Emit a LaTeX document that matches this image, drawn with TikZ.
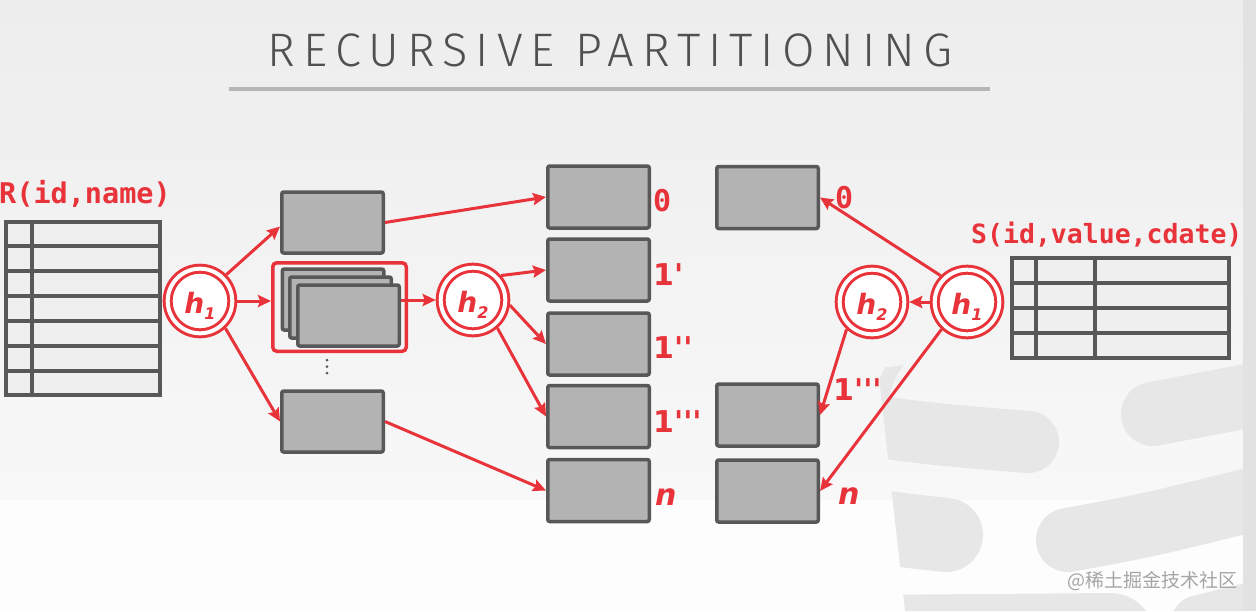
\documentclass[tikz,border=0pt]{standalone}
\usepackage{fontspec}
\usetikzlibrary{arrows.meta,calc}
\newfontfamily\titlefont{Fira Sans}[UprightFont={* Light},LetterSpace=17]
\newfontfamily\monofam{DejaVu Sans Mono}
\newfontfamily\dvsans{DejaVu Sans}
\newfontfamily\cjk{Noto Sans CJK SC}
\definecolor{hred}{RGB}{231,51,57}
\definecolor{boxfill}{RGB}{179,179,179}
\definecolor{boxline}{RGB}{88,88,88}
\definecolor{tabfill}{RGB}{239,239,239}
\definecolor{titlegray}{RGB}{80,80,80}
\definecolor{rulegray}{RGB}{182,182,182}
\definecolor{deco}{RGB}{231,231,231}
\definecolor{bgtop}{RGB}{237,237,237}
\definecolor{bgmid}{RGB}{248,248,248}
\definecolor{bglow}{RGB}{253,253,253}
\definecolor{bgedge}{RGB}{226,226,226}
\definecolor{wmgray}{RGB}{165,165,165}
\newcommand\hlab[1]{h\raisebox{-6pt}{\fontsize{16pt}{16pt}\selectfont #1}}
\tikzset{
  bucket/.style={draw=boxline, fill=boxfill, line width=3.5pt, rounded corners=2pt,
    minimum width=101.5pt, minimum height=62pt, inner sep=0pt},
  tabbox/.style={draw=boxline, fill=tabfill, line width=3.5pt, inner sep=0pt},
  hnode/.style={circle, draw=hred, line width=3pt, double=white, double distance=4pt,
    fill=white, minimum size=64.6pt, inner sep=0pt, outer sep=5pt, text=hred,
    font=\dvsans\bfseries\itshape\fontsize{28pt}{28pt}\selectfont,
    text height=25pt, text depth=0pt},
  arr/.style={draw=hred, line width=3pt, -{Stealth[length=13pt,width=12pt,inset=2pt]}},
  rlabel/.style={text=hred, inner sep=0pt, anchor=base west,
    font=\dvsans\bfseries\fontsize{30pt}{30pt}\selectfont},
  zlabel/.style={text=hred, inner sep=0pt, anchor=base west,
    font=\monofam\bfseries\fontsize{30pt}{30pt}\selectfont},
  nlabel/.style={text=hred, inner sep=0pt, anchor=base west,
    font=\dvsans\bfseries\itshape\fontsize{30pt}{30pt}\selectfont},
  gridline/.style={draw=boxline, line width=3.5pt},
}
\begin{document}
\begin{tikzpicture}[x=1pt,y=-1pt]
\useasboundingbox (0,0) rectangle (1256,611);
% background
\fill[top color=bgtop, bottom color=bgmid] (0,0) rectangle (1256,500);
\fill[bglow] (0,500) rectangle (1256,611);
% faint database decoration
\begin{scope}
\clip (878,368) -- (905,611) -- (1243,611) -- (1243,330) -- cycle;
\draw[deco, line width=62pt, line cap=round] (850,423) .. controls (930,434) .. (1028,442);
\draw[deco, line width=64pt, line cap=round] (1153,414) .. controls (1200,405) .. (1290,388);
\draw[deco, line width=74pt, line cap=round] (850,522) .. controls (900,530) .. (946,535);
\draw[deco, line width=64pt, line cap=round] (1068,540) .. controls (1150,525) .. (1290,490);
\draw[deco, line width=90pt, line cap=round] (860,640) -- (1110,638);
\draw[deco, line width=60pt, line cap=round] (1200,625) -- (1300,600);
\draw[deco, line width=14pt] (882,400) .. controls (886,365) and (910,342) .. (960,322);
\end{scope}
\fill[bgedge] (1243,0) rectangle (1256,611);
% title
\node[text=titlegray, inner sep=0pt, anchor=base, font=\titlefont\fontsize{47pt}{47pt}\selectfont] (title) at (610,66) {RECURSIVE PARTITIONING};
\draw[rulegray, line width=3.5pt] (229,89) -- (990,89);
% R table
\node[text=hred, inner sep=0pt, anchor=base west, font=\monofam\bfseries\fontsize{28.5pt}{28.5pt}\selectfont] (Rlab) at (-1,203) {R(id,name)};
\node[tabbox, minimum width=154pt, minimum height=173pt] (Rt) at (83,308.5) {};
\draw[gridline] (32,222) -- (32,395);
\foreach \y in {246,271,296,321,346,371} \draw[gridline] (6,\y) -- (160,\y);
% S table
\node[text=hred, inner sep=0pt, anchor=base west, font=\monofam\bfseries\fontsize{26.5pt}{26.5pt}\selectfont] (Slab) at (971,243) {S(id,value,cdate)};
\node[tabbox, minimum width=217pt, minimum height=100pt] (St) at (1120.5,308) {};
\draw[gridline] (1036,258) -- (1036,358);
\draw[gridline] (1095,258) -- (1095,358);
\foreach \y in {283,308,333} \draw[gridline] (1012,\y) -- (1229,\y);
% first-level buckets
\node[bucket, minimum height=61pt] (btop) at (332.5,222.5) {};
\node[bucket, minimum height=61pt] (bbot) at (332.5,421.5) {};
\node[bucket, minimum height=61pt] (s1) at (333,299.5) {};
\node[bucket, minimum height=61pt] (s2) at (340.5,307.5) {};
\node[bucket, minimum height=61pt] (s3) at (348.5,315.5) {};
\node[draw=hred, line width=3.5pt, rounded corners=4pt, minimum width=133.5pt, minimum height=88.5pt, inner sep=0pt] (grp) at (339.5,307) {};
\foreach \y in {360,366.5,373} \fill[boxline] (327,\y) circle (1.5pt);
% second column buckets
\node[bucket] (c0) at (598.5,197) {};
\node[bucket] (c1) at (598.5,270) {};
\node[bucket] (c2) at (598.5,344) {};
\node[bucket] (c3) at (598.5,416.5) {};
\node[bucket] (cn) at (598.5,490.5) {};
% right buckets
\node[bucket] (r0) at (767.5,197.5) {};
\node[bucket] (r3) at (767.5,415) {};
\node[bucket] (rn) at (767.5,491) {};
% labels
\node[zlabel] (l0) at (653,211) {0};
\node[rlabel] (l1) at (653,285) {1'};
\node[rlabel] (l2) at (653,358) {1''};
\node[rlabel] (l3) at (653,432) {1'''};
\node[nlabel] (ln) at (655,505) {n};
\node[zlabel] (m0) at (835,208) {0};
\node[rlabel] (m3) at (833,400) {1'''};
\node[nlabel] (mn) at (838,504) {n};
% hash nodes
\node[hnode] (h1L) at (200,301) {\hlab{1}};
\node[hnode] (h2L) at (473,300) {\hlab{2}};
\node[hnode] (h2R) at (872,302) {\hlab{2}};
\node[hnode] (h1R) at (967,302) {\hlab{1}};
% arrows left
\draw[arr] (h1L.45) -- ([yshift=-4pt]btop.west);
\draw[arr] (h1L.east) -- (h1L.east -| grp.west);
\draw[arr] (h1L.-47) -- (bbot.west);
\draw[arr] (btop.east) -- (c0.west);
\draw[arr] (bbot.east) -- (cn.west);
\draw[arr] (h2L.west -| s3.east) -- (h2L.west);
\draw[arr] (h2L.41) -- (c1.west);
\draw[arr] (h2L.-8) -- (c2.west);
\draw[arr] (h2L.-49) -- (c3.west);
% arrows right
\draw[arr] (h1R.135) -- (r0.east);
\draw[arr] (h1R.west) -- (h2R.east);
\draw[arr] (h2R.-133) -- (r3.east);
\draw[arr] (h1R.-133) -- (rn.east);
% watermark
\node[text=wmgray, inner sep=0pt, anchor=east, font=\cjk\fontsize{19pt}{19pt}\selectfont] (wm) at (1238,581) {@稀土掘金技术社区};
\end{tikzpicture}
\end{document}
